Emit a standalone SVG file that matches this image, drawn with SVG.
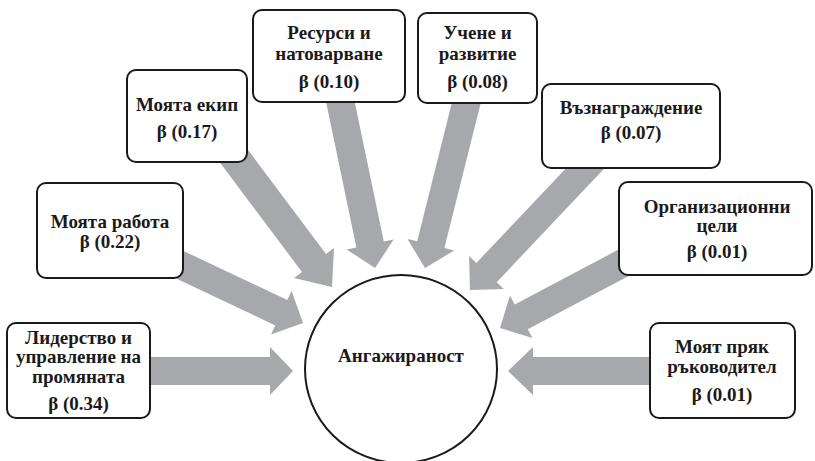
<svg xmlns="http://www.w3.org/2000/svg" width="815" height="461" viewBox="0 0 815 461">
<style>
.box{fill:#fff;stroke:#1a1a1a;stroke-width:2}
.arr{fill:#a7a8ac;stroke:none}
.t{font-family:"Liberation Serif","Times New Roman",serif;font-weight:bold;font-size:19px;fill:#1a1a1a;text-anchor:middle}
</style>
<rect width="815" height="461" fill="#fff"/>
<g id="connectors">
<polygon class="arr" points="150,357 270,357 270,347 293,371 270,395 270,385 150,385"/>
<polygon class="arr" points="176,247.4 287.3,300.1 291.6,291 303,323 271,334.4 275.3,325.4 164,272.7"/>
<polygon class="arr" points="241.3,141 326,254 334,248 332,287 294,278 302,272 217.3,159"/>
<polygon class="arr" points="353.7,97.1 383.8,241.6 393.6,239.6 375,268 346.6,249.4 356.4,247.4 326.3,102.9"/>
<polygon class="arr" points="453.4,96.6 417.2,241.3 407.5,238.9 425,268 454.1,250.5 444.4,248.1 480.6,103.4"/>
<polygon class="arr" points="584.8,148.4 476.3,263 469.1,256.1 470,290 503.9,289.1 496.7,282.2 605.2,167.6"/>
<polygon class="arr" points="618.5,249.6 514.7,304.4 510,295.6 500,328 532.4,338 527.7,329.2 631.5,274.4"/>
<polygon class="arr" points="650,357 533,357 533,347 508,371 533,395 533,385 650,385"/>
</g>
<g id="center">
<ellipse cx="401" cy="369" rx="96" ry="94" fill="#fff" stroke="#1a1a1a" stroke-width="2"/>
<text class="t" x="401" y="362">Ангажираност</text>
</g>
<g id="n1">
<rect class="box" x="7" y="323" width="143" height="95" rx="9"/>
<text class="t" x="78.5" y="344">Лидерство и</text>
<text class="t" x="78.5" y="363">управление на</text>
<text class="t" x="78.5" y="383">промяната</text>
<text class="t" x="78.5" y="410">β (0.34)</text>
</g>
<g id="n2">
<rect class="box" x="37" y="183" width="146" height="95" rx="9"/>
<text class="t" x="110" y="228">Моята работа</text>
<text class="t" x="110" y="248">β (0.22)</text>
</g>
<g id="n3">
<rect class="box" x="127" y="70" width="120" height="92" rx="9"/>
<text class="t" x="187" y="111">Моята екип</text>
<text class="t" x="187" y="138">β (0.17)</text>
</g>
<g id="n4">
<rect class="box" x="253" y="10" width="152" height="92" rx="9"/>
<text class="t" x="329" y="39">Ресурси и</text>
<text class="t" x="329" y="60">натоварване</text>
<text class="t" x="329" y="88">β (0.10)</text>
</g>
<g id="n5">
<rect class="box" x="418" y="13" width="119" height="90" rx="9"/>
<text class="t" x="477.5" y="39">Учене и</text>
<text class="t" x="477.5" y="60">развитие</text>
<text class="t" x="477.5" y="88">β (0.08)</text>
</g>
<g id="n6">
<rect class="box" x="542" y="84" width="178" height="84" rx="9"/>
<text class="t" x="631" y="114">Възнаграждение</text>
<text class="t" x="631" y="139">β (0.07)</text>
</g>
<g id="n7">
<rect class="box" x="619" y="182" width="193" height="93" rx="9"/>
<text class="t" x="717" y="213">Организационни</text>
<text class="t" x="717" y="232">цели</text>
<text class="t" x="717" y="258">β (0.01)</text>
</g>
<g id="n8">
<rect class="box" x="650" y="323" width="145" height="95" rx="9"/>
<text class="t" x="722" y="353">Моят пряк</text>
<text class="t" x="722" y="373">ръководител</text>
<text class="t" x="722" y="401">β (0.01)</text>
</g>
</svg>
